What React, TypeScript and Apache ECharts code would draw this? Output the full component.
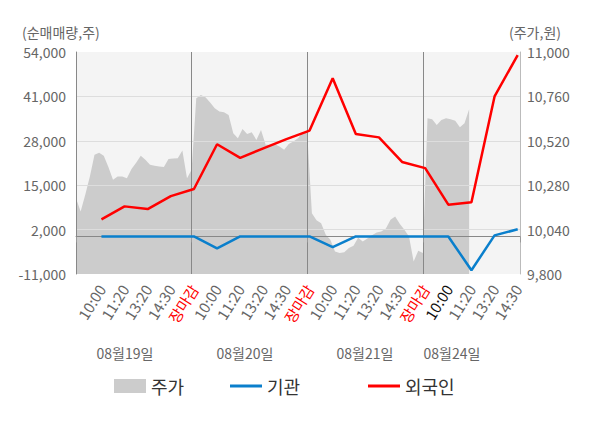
import React, { useEffect, useRef } from "react";
import * as echarts from "echarts";

// ---- data ----
const timeLabels = [
  "10:00", "11:20", "13:20", "14:30", "장마감",
  "10:00", "11:20", "13:20", "14:30", "장마감",
  "10:00", "11:20", "13:20", "14:30", "장마감",
  "10:00", "11:20", "13:20", "14:30",
];
const dateLabels = ["08월19일", "08월20일", "08월21일", "08월24일"];
// 외국인 순매매량 (주)
const foreignValues = [
  5000, 8800, 8000, 11800, 13900,
  27000, 23000, 25800, 28500, 31000,
  46300, 30000, 29000, 21800, 20000,
  9300, 10000, 41000, 53100,
];
// 기관 순매매량 (주)
const institutionValues = [
  0, 0, 0, 0, 0,
  -3500, 0, 0, 0, 0,
  -3100, 0, 0, 0, 0,
  0, -9900, 300, 2100,
];
// 주가 (원), intraday samples per day
const priceDay1 = [
  10210, 10138, 10228, 10327, 10444, 10456, 10439, 10378, 10309, 10327,
  10327, 10318, 10367, 10402, 10439, 10417, 10390, 10385, 10381, 10378,
  10421, 10424, 10426, 10467, 10318, 10363,
];
const priceDay2 = [
  10750, 10768, 10755, 10727, 10696, 10678, 10674, 10660, 10561, 10534,
  10584, 10557, 10566, 10525, 10579, 10498, 10498, 10502, 10489, 10471,
  10503, 10516, 10534, 10566, 10561,
];
const priceDay3 = [
  10129, 10090, 10075, 10012, 9985, 9922, 9913, 9917, 9940, 9953,
  9996, 9976, 9992, 10009, 10025, 10030, 10046, 10093, 10111, 10072,
  10039, 10003, 9868, 9926, 9913,
];
const priceDay4 = [10642, 10637, 10606, 10633, 10642, 10637, 10628, 10593, 10615, 10690];

// ---- layout of the time axis (fine units; 10 per label slot, 50 per day) ----
const UNIT_COUNT = 193;
const labelUnit = (i: number) => 11 + 10 * i;
const PRICE_POINTS = 97; // one price sample every 2 units

export default function App() {
  const ref = useRef<HTMLDivElement>(null);
  useEffect(() => {
    if (!ref.current) return;
    const chart = echarts.init(ref.current, null, { renderer: "svg" });
    const font = "Noto Sans CJK KR";
    const lastDayStart = labelUnit(15);

    const xCats = Array.from({ length: UNIT_COUNT }, (_, u) => {
      const i = (u - 11) / 10;
      if (Number.isInteger(i) && i >= 0 && i < timeLabels.length) {
        const t = timeLabels[i];
        const color = t === "장마감" ? "#ff0000" : u === lastDayStart ? "#111111" : "#666666";
        return { value: t, textStyle: { color } };
      }
      return { value: "" };
    });
    const labelUnits = new Set(timeLabels.map((_, i) => labelUnit(i)));
    const priceCats = Array.from({ length: PRICE_POINTS }, (_, j) => String(j));
    const priceData = [...priceDay1, ...priceDay2, ...priceDay3, ...priceDay4];

    const fmt = (v: number) => v.toLocaleString("en-US");

    const dateX = [125, 245, 365, 452];
    const legendText = { fontSize: 18, color: "#333", fontFamily: font };

    chart.setOption({
      animation: false,
      textStyle: { fontFamily: font },
      grid: {
        left: 76,
        right: 80,
        top: 52,
        bottom: 154,
        show: true,
        backgroundColor: "#f4f4f4",
        borderWidth: 0,
      },
      legend: [
        {
          data: [{ name: "주가", icon: "rect" }],
          left: 114,
          top: 377,
          padding: 0,
          itemWidth: 32,
          itemHeight: 14,
          textStyle: legendText,
        },
        {
          data: [{ name: "기관", icon: "rect" }],
          left: 230,
          top: 377,
          padding: 0,
          itemWidth: 32,
          itemHeight: 3,
          textStyle: legendText,
        },
        {
          data: [{ name: "외국인", icon: "rect" }],
          left: 368,
          top: 377,
          padding: 0,
          itemWidth: 32,
          itemHeight: 3,
          textStyle: legendText,
        },
      ],
      xAxis: [
        {
          type: "category",
          boundaryGap: false,
          data: xCats,
          z: 3,
          axisLine: { show: true, lineStyle: { color: "#999" } },
          axisTick: {
            show: true,
            length: 6,
            interval: (idx: number) => idx % 50 === 0 || idx === UNIT_COUNT - 1,
            lineStyle: { color: "#999" },
          },
          axisLabel: {
            interval: (idx: number) => labelUnits.has(idx),
            rotate: 58,
            fontSize: 15,
            margin: 12,
            color: "#666",
            fontFamily: font,
          },
          splitLine: {
            show: true,
            interval: (idx: number) => idx > 0 && idx < UNIT_COUNT - 1 && idx % 50 === 0,
            lineStyle: { color: "#888", width: 1 },
          },
        },
        {
          type: "category",
          boundaryGap: false,
          data: priceCats,
          show: false,
        },
      ],
      yAxis: [
        {
          type: "value",
          position: "left",
          min: -11000,
          max: 54000,
          interval: 13000,
          z: 3,
          axisLine: { show: true, lineStyle: { color: "#888" } },
          axisTick: { show: false },
          axisLabel: { color: "#666", fontSize: 14, margin: 10, formatter: fmt, fontFamily: font },
          splitLine: {
            show: true,
            showMinLine: false,
            showMaxLine: false,
            lineStyle: { color: "#dddddd", width: 1 },
          },
        },
        {
          type: "value",
          position: "right",
          min: 9800,
          max: 11000,
          interval: 240,
          axisLine: { show: true, lineStyle: { color: "#bbb" } },
          axisTick: { show: false },
          axisLabel: { color: "#666", fontSize: 14, margin: 7, formatter: fmt, fontFamily: font },
          splitLine: { show: false },
        },
      ],
      graphic: [
        {
          type: "text",
          left: 22,
          top: 25,
          style: { text: "(순매매량,주)", fill: "#666", fontSize: 14, fontFamily: font },
        },
        {
          type: "text",
          left: 509,
          top: 25,
          style: { text: "(주가,원)", fill: "#666", fontSize: 14, fontFamily: font },
        },
        ...dateLabels.map((d, k) => ({
          type: "text",
          x: dateX[k],
          y: 353,
          style: {
            text: d,
            fill: "#666",
            fontSize: 14,
            fontFamily: font,
            textAlign: "center",
            textVerticalAlign: "middle",
          },
        })),
      ],
      series: [
        {
          name: "주가",
          type: "line",
          xAxisIndex: 1,
          yAxisIndex: 1,
          data: priceData,
          symbol: "none",
          z: 1,
          itemStyle: { color: "#cccccc" },
          lineStyle: { width: 0, color: "#cccccc" },
          areaStyle: { color: "#cccccc", opacity: 1, origin: "start" },
        },
        {
          name: "기관",
          type: "line",
          xAxisIndex: 0,
          yAxisIndex: 0,
          data: institutionValues.map((v, i) => [labelUnit(i), v]),
          symbol: "none",
          z: 5,
          itemStyle: { color: "#0a7fcc" },
          lineStyle: { width: 2.5, color: "#0a7fcc" },
          markLine: {
            silent: true,
            symbol: ["none", "none"],
            label: { show: false },
            lineStyle: { color: "#888", width: 1, type: "solid" },
            data: [{ yAxis: 0 }],
          },
        },
        {
          name: "외국인",
          type: "line",
          xAxisIndex: 0,
          yAxisIndex: 0,
          data: foreignValues.map((v, i) => [labelUnit(i), v]),
          symbol: "none",
          z: 6,
          itemStyle: { color: "#ff0000" },
          lineStyle: { width: 2.5, color: "#ff0000" },
        },
      ],
    });
    return () => chart.dispose();
  }, []);
  return (
    <div
      ref={ref}
      style={{ position: "fixed", left: 0, top: 0, width: 600, height: 428, background: "#fff" }}
    />
  );
}
